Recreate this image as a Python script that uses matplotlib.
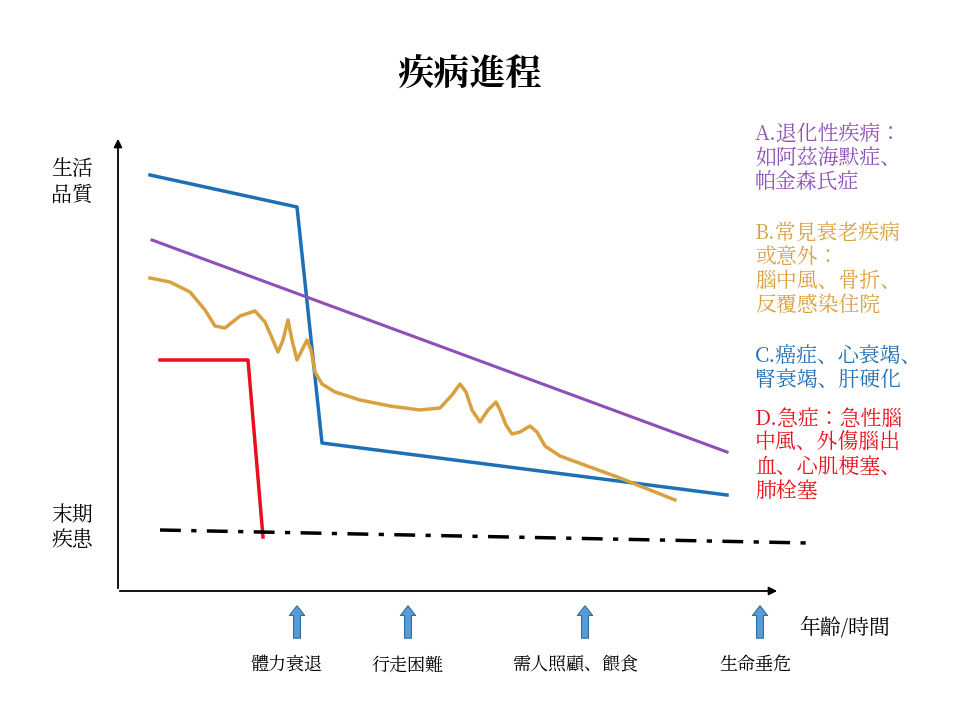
import matplotlib
matplotlib.use("Agg")
import matplotlib.pyplot as plt
from matplotlib import font_manager

# pick an installed CJK family
cjk = [f.name for f in font_manager.fontManager.ttflist if "CJK" in f.name]
pref = [n for n in cjk if "TC" in n] or [n for n in cjk if "JP" in n] or cjk
plt.rcParams["font.family"] = (pref[:1] if pref else []) + ["DejaVu Sans"]

# ---- data (in slide pixel units) ----
blue_x = [150, 297, 322, 727]
blue_y = [175, 207, 443, 495]
purple_x = [152, 727]
purple_y = [240, 452]
red_x = [160, 248, 263]
red_y = [360, 360, 537]
black_x = [160, 808]
black_y = [530, 543]
orange_x = [150, 170, 190, 205, 215, 225, 240, 255, 265, 272, 278, 283, 288, 292, 297, 302, 307, 311,
            315, 322, 335, 360, 390, 420, 440, 452, 460, 466, 472, 480, 488, 496, 500, 506, 512,
            520, 530, 537, 545, 560, 590, 620, 650, 675]
orange_y = [278, 282, 292, 310, 326, 328, 316, 311, 322, 338, 352, 340, 320, 340, 360, 350, 340, 350,
            372, 384, 392, 400, 406, 410, 408, 395, 384, 392, 410, 422, 410, 402, 410, 425, 434,
            432, 426, 432, 446, 456, 467, 478, 490, 500]

stages = ["體力衰退", "行走困難", "需人照顧、餵食", "生命垂危"]
stage_x = [297, 408, 585, 760]
label_x = [287, 407, 575, 755]

blue_c = "#1f6fb5"
purple_c = "#8e4fb8"
orange_c = "#d9a040"
red_c = "#e8101a"

fig = plt.figure(figsize=(9.6, 7.2), dpi=100)
ax = fig.add_axes([0, 0, 1, 1])
ax.set_xlim(0, 960)
ax.set_ylim(720, 0)
ax.axis("off")

ax.text(470, 75, "疾病進程", ha="center", va="center", fontsize=26, fontweight="bold")

# axes arrows
ax.annotate("", xy=(118, 136), xytext=(118, 591),
            arrowprops=dict(arrowstyle="-|>", color="black", lw=1.3, mutation_scale=12))
ax.annotate("", xy=(780, 591), xytext=(117, 591),
            arrowprops=dict(arrowstyle="-|>", color="black", lw=1.3, mutation_scale=12))

ax.plot(blue_x, blue_y, color=blue_c, lw=2.5)
ax.plot(purple_x, purple_y, color=purple_c, lw=2.2)
ax.plot(orange_x, orange_y, color=orange_c, lw=2.5)
ax.plot(red_x, red_y, color=red_c, lw=2.5)
ax.plot(black_x, black_y, color="black", lw=2.5, dashes=[6, 3, 1.5, 3])

ax.text(72, 182, "生活\n品質", ha="center", va="center", fontsize=15, linespacing=1.2)
ax.text(72, 528, "末期\n疾患", ha="center", va="center", fontsize=15, linespacing=1.2)
ax.text(845, 628, "年齡/時間", ha="center", va="center", fontsize=15)

for sx, lx, s in zip(stage_x, label_x, stages):
    ax.annotate("", xy=(sx, 603), xytext=(sx, 641),
                arrowprops=dict(arrowstyle="simple,head_width=1.1,head_length=0.7,tail_width=0.5",
                                fc="#5b9bd5", ec="#2e6da4", lw=0.8))
    ax.text(lx, 665, s, ha="center", va="center", fontsize=13)

notes = [
    (136, "A.退化性疾病：\n如阿茲海默症、\n帕金森氏症", purple_c),
    (234, "B.常見衰老疾病\n或意外：\n腦中風、骨折、\n反覆感染住院", orange_c),
    (357, "C.癌症、心衰竭、\n腎衰竭、肝硬化", blue_c),
    (420, "D.急症：急性腦\n中風、外傷腦出\n血、心肌梗塞、\n肺栓塞", red_c),
]
for y, t, c in notes:
    ax.text(755, y - 12, t, ha="left", va="top", fontsize=15, color=c, linespacing=1.15)

fig.savefig("out.png", dpi=100)
